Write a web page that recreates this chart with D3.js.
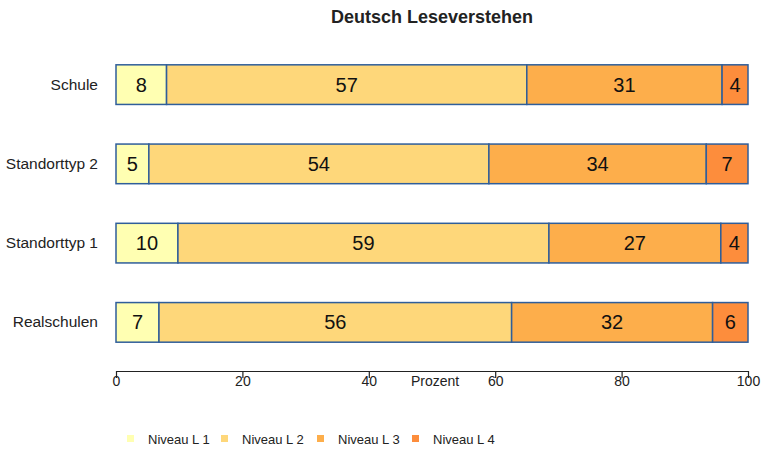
<!DOCTYPE html>
<html><head><meta charset="utf-8">
<script src="https://cdn.jsdelivr.net/npm/d3@7"></script>
<style>body{margin:0;background:#fff;font-family:"Liberation Sans",Arial,sans-serif}</style>
</head><body><svg id="c" width="762" height="449"></svg>
<script>
const categories = ["Schule","Standorttyp 2","Standorttyp 1","Realschulen"];
const levels = ["Niveau L 1","Niveau L 2","Niveau L 3","Niveau L 4"];
// shares in percent (labels show rounded values)
const L1 = [8.0,5.2,9.8,6.8];
const L2 = [57.0,53.8,58.7,55.8];
const L3 = [30.9,34.4,27.2,31.8];
const L4 = [4.1,6.6,4.3,5.6];
const ticks = [0,20,40,60,80,100];
const colors = ["#FFFFB2","#FED77A","#FDAE4B","#FD8D3C"];

const series = [L1,L2,L3,L4];
const rows = categories.map((c,i)=>{const o={cat:c}; levels.forEach((l,j)=>o[l]=series[j][i]); return o;});
const stack = d3.stack().keys(levels)(rows);

const svg = d3.select("#c");
const x = d3.scaleLinear().domain([0,100]).range([116,748]);
const y = d3.scaleBand().domain(categories).range([45,362]).paddingInner(0.5).paddingOuter(0.25);

svg.append("text").attr("x",432).attr("y",23).attr("text-anchor","middle")
  .attr("font-size",18).attr("font-weight","bold").attr("fill","#222").text("Deutsch Leseverstehen");

stack.forEach((s,j)=>{
  const g = svg.append("g");
  g.selectAll("rect").data(s).join("rect")
    .attr("x",d=>x(d[0])).attr("width",d=>x(d[1])-x(d[0]))
    .attr("y",d=>y(d.data.cat)).attr("height",y.bandwidth())
    .attr("fill",colors[j]).attr("stroke","#2F5E9A").attr("stroke-width",1.5);
  g.selectAll("text").data(s).join("text")
    .attr("x",d=>(x(d[0])+x(d[1]))/2).attr("y",d=>y(d.data.cat)+y.bandwidth()/2+7)
    .attr("text-anchor","middle").attr("font-size",20).attr("fill","#111")
    .text(d=>Math.round(d[1]-d[0]));
});

svg.append("g").selectAll("text").data(categories).join("text")
  .attr("x",98).attr("y",d=>y(d)+y.bandwidth()/2+5).attr("text-anchor","end")
  .attr("font-size",15.5).attr("fill","#222").text(d=>d);

const ax = svg.append("g").attr("transform","translate(0,371)")
  .call(d3.axisBottom(x).tickValues(ticks).tickSize(7).tickPadding(-2).tickSizeOuter(0));
ax.select(".domain").attr("stroke","#222").attr("stroke-width",1.2);
ax.selectAll(".tick line").attr("stroke","#222").attr("stroke-width",1.2);
ax.selectAll(".tick text").attr("font-size",14).attr("fill","#222").attr("font-family","Liberation Sans, Arial, sans-serif");
svg.append("text").attr("x",435).attr("y",386).attr("text-anchor","middle").attr("font-size",14).attr("fill","#222").text("Prozent");

const lx = [127,221,317,412];
const lg = svg.append("g").selectAll("g").data(levels).join("g");
lg.append("rect").attr("x",(d,i)=>lx[i]).attr("y",435).attr("width",7).attr("height",7).attr("fill",(d,i)=>colors[i]);
lg.append("text").attr("x",(d,i)=>lx[i]+21).attr("y",444).attr("font-size",13).attr("fill","#222").text(d=>d);
</script></body></html>
